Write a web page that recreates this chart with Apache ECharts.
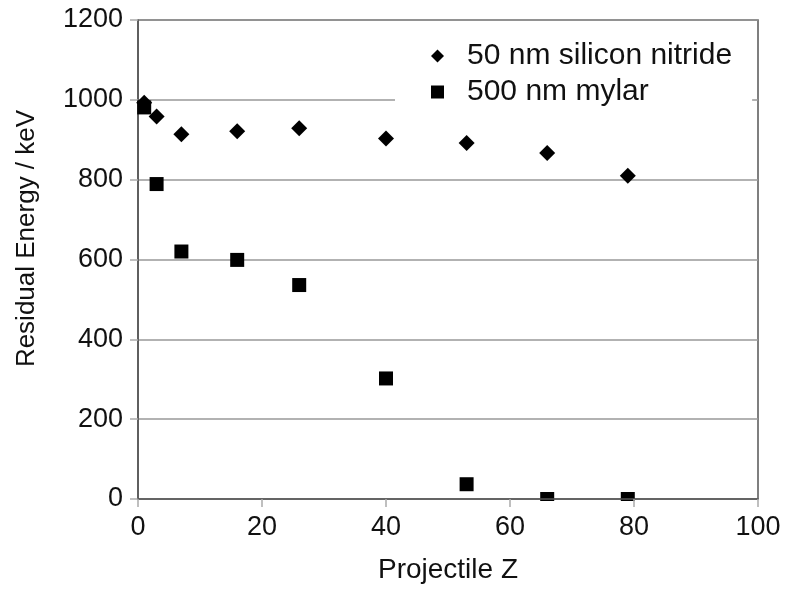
<!DOCTYPE html>
<html>
<head>
<meta charset="utf-8">
<script src="https://cdn.jsdelivr.net/npm/echarts@6/dist/echarts.min.js"></script>
<style>
  html, body { margin: 0; padding: 0; background: #fff; }
  #chart { width: 786px; height: 589px; }
</style>
</head>
<body>
<div id="chart"></div>
<script>
// projectile Z and residual energy (keV)
var nitrideZ = [1, 3, 7, 16, 26, 40, 53, 66, 79];
var nitrideE = [993, 958, 914, 921, 929, 903, 892, 867, 810];
var mylarZ = [1, 3, 7, 16, 26, 40, 53, 66, 79];
var mylarE = [981, 789, 620, 599, 536, 302, 37, 0, 0];

var seriesNames = ['50 nm silicon nitride', '500 nm mylar'];
var xTicks = [0, 20, 40, 60, 80, 100];
var yTicks = [0, 200, 400, 600, 800, 1000, 1200];

var font = 'Liberation Sans, Arial, sans-serif';

function pairs(xs, ys) {
    return xs.map(function (x, i) { return [x, ys[i]]; });
}

var chart = echarts.init(document.getElementById('chart'));
chart.setOption({
    backgroundColor: '#fff',
    animation: false,
    grid: {
        left: 138,
        right: 28,
        top: 20,
        bottom: 89,
        show: true,
        borderColor: '#555',
        borderWidth: 1.5,
        backgroundColor: 'transparent'
    },
    legend: {
        data: [
            { name: seriesNames[0], icon: 'diamond' },
            { name: seriesNames[1], icon: 'rect' }
        ],
        orient: 'vertical',
        left: 395,
        top: 35,
        z: 8,
        padding: [4, 20, 4, 36],
        backgroundColor: '#fff',
        itemWidth: 13,
        itemHeight: 13,
        itemGap: 2,
        itemStyle: { opacity: 1 },
        textStyle: {
            fontFamily: font,
            fontSize: 30,
            color: '#111',
            lineHeight: 28,
            padding: [6, 0, 0, 18]
        }
    },
    xAxis: {
        type: 'value',
        min: xTicks[0],
        max: xTicks[xTicks.length - 1],
        interval: 20,
        z: 5,
        name: 'Projectile Z',
        nameLocation: 'middle',
        nameGap: 57,
        nameTextStyle: { fontFamily: font, fontSize: 28, color: '#111' },
        axisLine: { lineStyle: { color: '#555', width: 1.5 } },
        axisTick: { show: true, length: 8, lineStyle: { color: '#aaa', width: 1.5 } },
        axisLabel: { margin: 15, fontFamily: font, fontSize: 27, color: '#111' },
        splitLine: { show: false }
    },
    yAxis: {
        type: 'value',
        min: yTicks[0],
        max: yTicks[yTicks.length - 1],
        interval: 200,
        name: 'Residual Energy / keV',
        nameLocation: 'middle',
        nameGap: 98,
        nameTextStyle: { fontFamily: font, fontSize: 26, color: '#111', padding: [0, 0, 0, 42] },
        axisLine: { lineStyle: { color: '#555', width: 1.5 } },
        axisTick: { show: true, length: 8, lineStyle: { color: '#aaa', width: 1.5 } },
        axisLabel: {
            margin: 15, fontFamily: font, fontSize: 27, color: '#111',
            formatter: function (v) { return String(v); }
        },
        splitLine: { show: true, lineStyle: { color: '#999', width: 1.5 } }
    },
    // white band under the x axis so points sitting on 0 are cut at the axis
    graphic: [{
        type: 'rect',
        z: 3,
        shape: { x: 139, y: 501, width: 640, height: 10 },
        style: { fill: '#fff' }
    }],
    series: [
        {
            name: seriesNames[0],
            type: 'scatter',
            symbol: 'diamond',
            symbolSize: [16, 16],
            itemStyle: { color: '#000', opacity: 1 },
            data: pairs(nitrideZ, nitrideE)
        },
        {
            name: seriesNames[1],
            type: 'scatter',
            symbol: 'rect',
            symbolSize: [14, 14],
            itemStyle: { color: '#000', opacity: 1 },
            data: pairs(mylarZ, mylarE)
        }
    ]
});
</script>
</body>
</html>
